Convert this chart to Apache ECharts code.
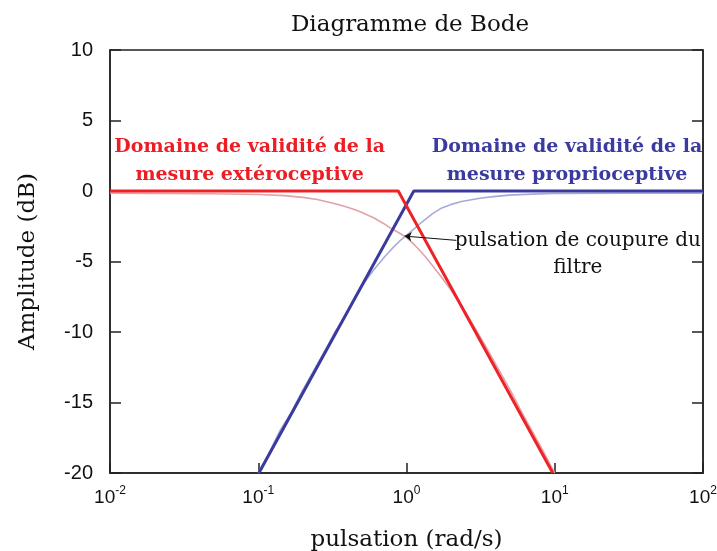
<!DOCTYPE html>
<html>
<head>
<meta charset="utf-8">
<script src="https://cdn.jsdelivr.net/npm/echarts@6/dist/echarts.min.js"></script>
<style>
  html, body { margin: 0; padding: 0; background: #ffffff; }
  #chart { width: 717px; height: 551px; }
</style>
</head>
<body>
<div id="chart"></div>
<script>
// Straight-line (asymptotic) responses, in rad/s and dB
const asymLowOmega = [0.01, 0.88, 9.7];
const asymLowDb = [0, 0, -20];
const asymHighOmega = [0.101, 1.12, 100];
const asymHighDb = [-20, 0, 0];

const realLowOmega = [0.01, 0.05, 0.1, 0.15, 0.2, 0.25, 0.3, 0.35, 0.4, 0.45, 0.5, 0.6, 0.7, 0.8, 0.9, 1, 1.1, 1.2, 1.35, 1.5, 1.75, 2, 2.5, 3, 3.5, 4, 5, 6, 7, 8.5, 10];
const realLowDb = [-0.15, -0.2, -0.25, -0.33, -0.45, -0.6, -0.8, -0.97, -1.15, -1.33, -1.52, -1.9, -2.3, -2.7, -3.0, -3.3, -3.7, -4.1, -4.7, -5.3, -6.2, -7.05, -8.6, -10.0, -11.2, -12.3, -14.1, -15.7, -17.0, -18.6, -20.0];
const realHighOmega = [0.1, 0.118, 0.14, 0.167, 0.2, 0.25, 0.286, 0.33, 0.4, 0.45, 0.52, 0.6, 0.71, 0.83, 0.91, 1, 1.12, 1.27, 1.5, 1.73, 2, 2.35, 2.8, 3.2, 4, 4.9, 7, 10, 30, 100];
const realHighDb = [-20, -18.6, -17.0, -15.7, -14.1, -12.3, -11.2, -10.0, -8.6, -7.6, -6.5, -5.6, -4.68, -3.9, -3.5, -3.15, -2.7, -2.2, -1.6, -1.2, -0.95, -0.75, -0.6, -0.5, -0.38, -0.29, -0.22, -0.18, -0.15, -0.15];

// Axis ticks
const xTicks = [0.01, 0.1, 1, 10, 100];
const yTicks = [-20, -15, -10, -5, 0, 5, 10];

const pairs = (xs, ys) => xs.map((x, i) => [x, ys[i]]);

const SERIF = '"DejaVu Serif", "Liberation Serif", serif';
const SANS = '"Liberation Sans", Arial, sans-serif';

const chart = echarts.init(document.getElementById('chart'), null, { renderer: 'canvas' });

const yAxisCommon = {
  type: 'value',
  min: yTicks[0],
  max: yTicks[yTicks.length - 1],
  interval: 5,
  splitLine: { show: false },
  axisLine: { show: true, onZero: false, lineStyle: { color: '#222', width: 1.5 } },
  axisTick: { show: true, inside: true, length: 11, lineStyle: { color: '#222', width: 1.5 } }
};

const textMark = (coord, text, color, weight, size, lineHeight) => ({
  silent: true,
  symbol: 'circle',
  symbolSize: 1,
  itemStyle: { color: 'rgba(0,0,0,0)' },
  label: {
    show: true,
    position: 'inside',
    align: 'center',
    fontFamily: SERIF,
    fontWeight: weight,
    fontSize: size,
    lineHeight: lineHeight,
    color: color,
    formatter: text
  },
  data: [{ coord: coord }]
});

chart.setOption({
  animation: false,
  backgroundColor: '#ffffff',
  title: {
    text: 'Diagramme de Bode',
    left: 405,
    textAlign: 'center',
    top: 9,
    textStyle: { fontFamily: SERIF, fontWeight: 'normal', fontSize: 23, color: '#111' }
  },
  grid: {
    left: 110, right: 14, top: 50, bottom: 78,
    outerBoundsMode: 'none',
    containLabel: false,
    show: true, borderColor: '#222', borderWidth: 1.5, backgroundColor: '#ffffff'
  },
  xAxis: {
    type: 'log',
    logBase: 10,
    min: xTicks[0],
    max: xTicks[xTicks.length - 1],
    name: 'pulsation (rad/s)',
    nameLocation: 'middle',
    nameGap: 56,
    nameTextStyle: { fontFamily: SERIF, fontSize: 23, color: '#111' },
    splitLine: { show: false },
    axisLine: { show: true, onZero: false, lineStyle: { color: '#222', width: 1.5 } },
    axisTick: { show: true, inside: true, length: 10, lineStyle: { color: '#222', width: 1.5 } },
    axisLabel: {
      margin: 12,
      formatter: v => '{b|10}{s|' + Math.round(Math.log10(v)) + '}',
      rich: {
        b: { fontFamily: SANS, fontSize: 19, color: '#111', lineHeight: 26 },
        s: { fontFamily: SANS, fontSize: 12, color: '#111', verticalAlign: 'top', lineHeight: 26 }
      }
    }
  },
  yAxis: [
    Object.assign({}, yAxisCommon, {
      position: 'left',
      name: 'Amplitude (dB)',
      nameLocation: 'middle',
      nameGap: 70,
      nameTextStyle: { fontFamily: SERIF, fontSize: 23, color: '#111' },
      axisLabel: { margin: 17, fontFamily: SANS, fontSize: 20, color: '#111' }
    }),
    Object.assign({}, yAxisCommon, {
      position: 'right',
      axisLabel: { show: false }
    })
  ],
  series: [
    {
      name: 'réel passe-haut',
      type: 'line',
      data: pairs(realHighOmega, realHighDb),
      showSymbol: false,
      lineStyle: { color: '#a9a9d9', width: 1.6 },
      z: 2
    },
    {
      name: 'réel passe-bas',
      type: 'line',
      data: pairs(realLowOmega, realLowDb),
      showSymbol: false,
      lineStyle: { color: '#e0a3a8', width: 1.6 },
      z: 2,
      markLine: {
        silent: true,
        symbol: ['none', 'arrow'],
        symbolSize: 7,
        lineStyle: { color: '#111', width: 1, type: 'solid' },
        label: { show: false },
        data: [[{ coord: [2.17, -3.5] }, { coord: [0.97, -3.2] }]]
      },
      markPoint: textMark([14.3, -4.5], 'pulsation de coupure du\nfiltre', '#111', 'normal', 20, 27)
    },
    {
      name: 'asymptote passe-haut',
      type: 'line',
      data: pairs(asymHighOmega, asymHighDb),
      showSymbol: false,
      lineStyle: { color: '#3b3b9e', width: 3 },
      z: 3,
      markPoint: textMark([12.1, 2.1], 'Domaine de validité de la\nmesure proprioceptive', '#3a3aa0', 'bold', 19, 28)
    },
    {
      name: 'asymptote passe-bas',
      type: 'line',
      data: pairs(asymLowOmega, asymLowDb),
      showSymbol: false,
      lineStyle: { color: '#ee2328', width: 3 },
      z: 4,
      markPoint: textMark([0.0875, 2.1], 'Domaine de validité de la\nmesure extéroceptive', '#ee1c24', 'bold', 19, 28)
    }
  ]
});
</script>
</body>
</html>
